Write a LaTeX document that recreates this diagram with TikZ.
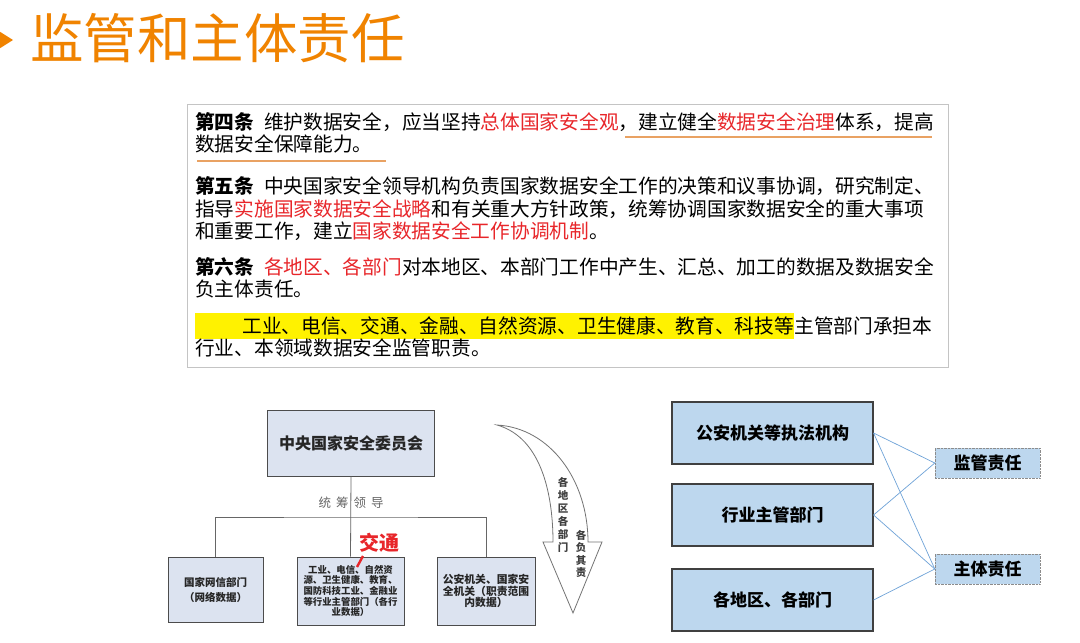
\documentclass[tikz,border=0pt]{standalone}
\usepackage{fontspec}
\setmainfont{Noto Sans CJK SC}
\usepackage{xcolor}
\usepackage{tikz}
\usetikzlibrary{positioning, arrows.meta, calc}
\definecolor{titleorange}{HTML}{F08300}
\definecolor{lawred}{HTML}{E8262A}
\definecolor{lineorange}{HTML}{E9A263}
\definecolor{orgfill}{HTML}{DCE3F0}
\definecolor{dutyfill}{HTML}{BDD7EE}
\definecolor{linkblue}{HTML}{6FA3D8}
\definecolor{framegray}{HTML}{C4C4C4}
\newcommand{\redtxt}[1]{\textcolor{lawred}{#1}}
\newcommand{\setpt}[1]{\fontsize{#1}{#1}\selectfont}
\newcommand{\setptls}[2]{\fontsize{#1}{#2}\selectfont}

\begin{document}
\begin{tikzpicture}[x=1pt, y=-1pt,
    lawline/.style={anchor=west, inner sep=0pt, font=\setpt{19.7}},
    orgbox/.style={draw=black!70, fill=orgfill, line width=0.8pt, align=center, text=black!85, inner sep=2pt},
    dutybox/.style={draw=black!75, fill=dutyfill, line width=1.1pt, minimum width=201pt, minimum height=62pt, font=\bfseries\setpt{17}},
    tagbox/.style={draw=black!45, densely dotted, fill=dutyfill, minimum width=105pt, minimum height=30pt, font=\bfseries\setpt{17}},
    link/.style={draw=linkblue, line width=0.7pt},
    arrowtext/.style={align=center, inner sep=0pt, text=black!75, font=\bfseries\setpt{10.5}}]
  \useasboundingbox[fill=white] (0,0) rectangle (1080,643);

  % title
  \fill[titleorange] (-6,28) -- (13,40) -- (-6,52) -- cycle;
  \node[anchor=west, inner sep=0pt, text=titleorange, font=\setpt{53.5}] (title) at (30,38) {监管和主体责任};

  % law text
  \draw[framegray, line width=0.8pt] (187,104) rectangle (948,367);
  \node[lawline] (l1) at (195,122) {\textbf{第四条}\hspace{0.5em}维护数据安全，应当坚持\redtxt{总体国家安全观}，建立健全\redtxt{数据安全治理}体系，提高};
  \node[lawline] (l2) at (195,144) {数据安全保障能力。};
  \draw[lineorange, line width=1.6pt] (625,137) -- (932,137);
  \draw[lineorange, line width=1.6pt] (197,161) -- (386,161);
  \node[lawline] (l3) at (195,186) {\textbf{第五条}\hspace{0.5em}中央国家安全领导机构负责国家数据安全工作的决策和议事协调，研究制定、};
  \node[lawline] (l4) at (195,209) {指导\redtxt{实施国家数据安全战略}和有关重大方针政策，统筹协调国家数据安全的重大事项};
  \node[lawline] (l5) at (195,231) {和重要工作，建立\redtxt{国家数据安全工作协调机制}。};
  \node[lawline] (l6) at (195,267) {\textbf{第六条}\hspace{0.5em}\redtxt{各地区、各部门}对本地区、本部门工作中产生、汇总、加工的数据及数据安全};
  \node[lawline] (l7) at (195,289) {负主体责任。};
  \node[lawline, fill=yellow, minimum height=26pt] (l8a) at (195,326) {\hspace{2.4em}工业、电信、交通、金融、自然资源、卫生健康、教育、科技等};
  \node[lawline, right=0pt of l8a] (l8b) {主管部门承担本};
  \node[lawline] (l9) at (195,348) {行业、本领域数据安全监管职责。};

  % org chart
  \node[orgbox, minimum width=167pt, minimum height=66pt, font=\bfseries\setpt{16}] (cncs) at (351,443) {中央国家安全委员会};
  \node[orgbox, minimum width=95pt, minimum height=65pt, font=\bfseries\setptls{10.5}{15}] (cac) at (215.5,589.5) {国家网信部门\\（网络数据）};
  \node[orgbox, minimum width=107pt, minimum height=68pt, font=\bfseries\setptls{9.4}{10.6}] (sector) at (350.5,591) {工业、电信、自然资\\源、卫生健康、教育、\\国防科技工业、金融业\\等行业主管部门（各行\\业数据）};
  \node[orgbox, minimum width=98pt, minimum height=68pt, font=\bfseries\setptls{10.8}{11.3}] (police) at (486,591) {公安机关、国家安\\全机关（职责范围\\内数据）};
  \coordinate (bus) at (351,517);
  \draw[black!60, line width=0.8pt] (cncs.south) -- (sector.north);
  \draw[black!60, line width=0.8pt] (cac.north) |- (bus) -| (police.north);
  \node[text=black!60, font=\setpt{12.5}] (lead) at (351,503) {统\hspace{5pt}筹\hspace{5pt}领\hspace{5pt}导};
  \node[text=lawred, font=\bfseries\setpt{20}, inner sep=0pt] (jt) at (379,543) {交通};
  \coordinate (caret) at (357,567);
  \draw[lawred, line width=2.4pt] (caret) -- ++(6,-11);

  % curved arrow
  \draw[black!55, fill=white, line width=0.8pt] (497,425) .. controls (550,428) and (588,480) .. (588,542)
    -- (602,542) -- (573,613) -- (543,542) -- (553,542)
    .. controls (553,498) and (543,438) .. cycle;
  \node[arrowtext] (each) at (563,515) {各\\[2.5pt]地\\[2.5pt]区\\[2.5pt]各\\[2.5pt]部\\[2.5pt]门};
  \node[arrowtext] (resp) at (581,554) {各\\[2pt]负\\[2pt]其\\[2pt]责};

  % duties
  \node[dutybox] (enforce) at (772.5,433) {公安机关等执法机构};
  \node[dutybox] (industry) at (772.5,515) {行业主管部门};
  \node[dutybox] (region) at (772.5,600) {各地区、各部门};
  \node[tagbox] (supervise) at (987.5,463) {监管责任};
  \node[tagbox] (subject) at (987.5,569) {主体责任};
  \draw[link] (enforce.east) -- (supervise.west);
  \draw[link] (enforce.east) -- (subject.west);
  \draw[link] (industry.east) -- (supervise.west);
  \draw[link] (industry.east) -- (subject.west);
  \draw[link] (region.east) -- (subject.west);
\end{tikzpicture}
\end{document}
